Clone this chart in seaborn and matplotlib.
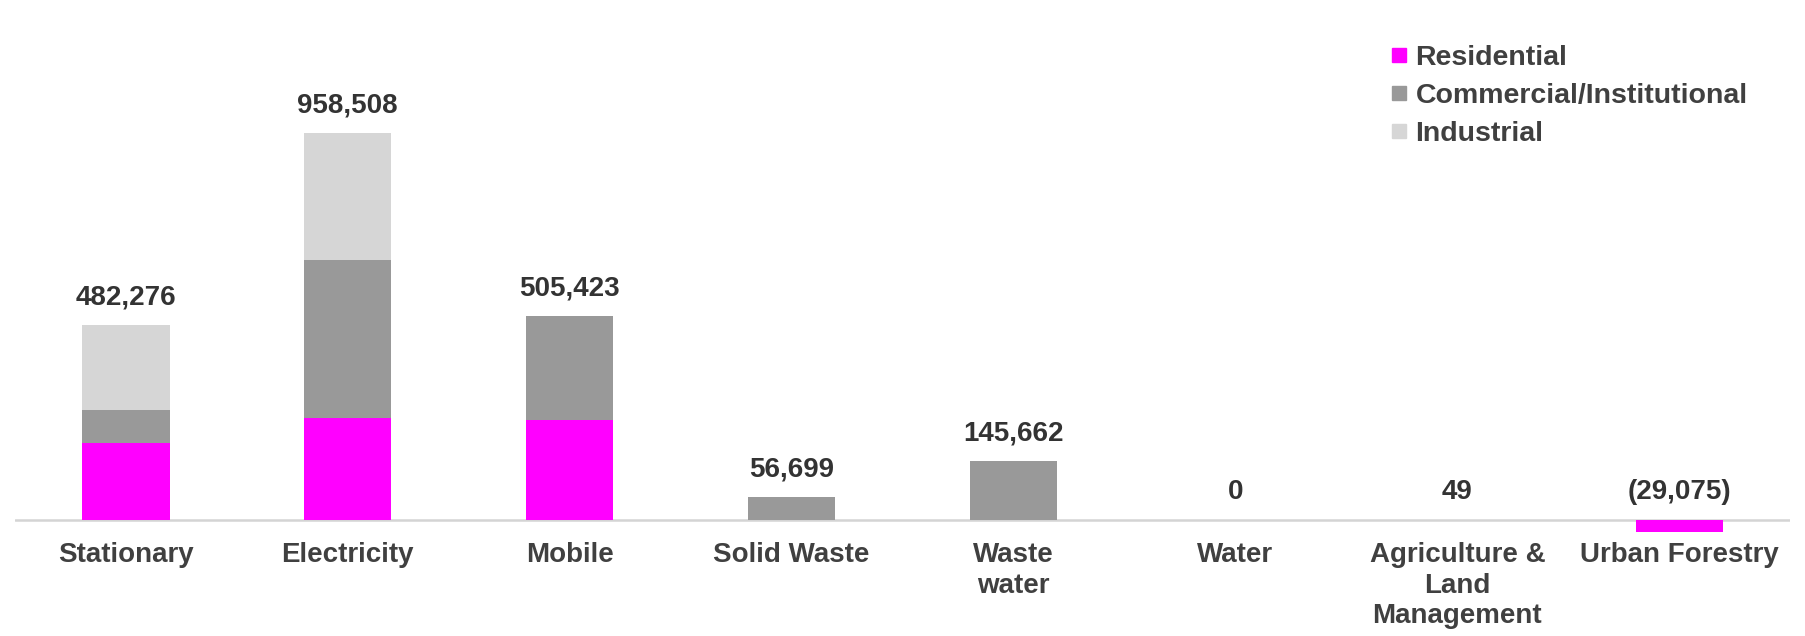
import numpy as np
import pandas as pd
import matplotlib
matplotlib.use("Agg")
import matplotlib.pyplot as plt
from matplotlib.lines import Line2D
import seaborn as sns

# Emissions by sector, split by end-use group (MT CO2e)
sectors = ["Stationary", "Electricity", "Mobile", "Solid Waste", "Waste\nwater",
           "Water", "Agriculture &\nLand\nManagement", "Urban Forestry"]
residential = [190100, 252000, 247900, 0, 0, 0, 0, -29075]
commercial = [82600, 392400, 257523, 56699, 145662, 0, 49, 0]
industrial = [209576, 314108, 0, 0, 0, 0, 0, 0]
groups = ["Residential", "Commercial/Institutional", "Industrial"]
colors = ["#ff00ff", "#999999", "#d6d6d6"]

sns.set_theme(style="white")
plt.rcParams["font.family"] = ["Liberation Sans", "DejaVu Sans"]

df = pd.DataFrame({"sector": sectors, "Residential": residential,
                   "Commercial/Institutional": commercial, "Industrial": industrial})
res = np.array(residential, dtype=float)
com = np.array(commercial, dtype=float)
ind = np.array(industrial, dtype=float)
totals = res + com + ind

fig = plt.figure(figsize=(18.06, 6.36), dpi=100)
ax = fig.add_axes([0.00825, 0.1506, 0.983, 0.7929])

bar_w = 0.394
bottoms = [np.zeros(len(sectors)), np.clip(res, 0, None), np.clip(res, 0, None) + com]
for grp, col, bot in zip(groups, colors, bottoms):
    sns.barplot(data=df, x="sector", y=grp, color=col, width=bar_w, bottom=bot,
                saturation=1, linewidth=0, ax=ax)

ax.axhline(0, color="#d4d4d4", lw=1.8, zorder=0)
ax.set_xlim(-0.5, len(sectors) - 0.5)
ax.set_ylim(-50000, 1200000)
ax.set_xlabel("")
ax.set_ylabel("")
ax.set_yticks([])
for s in ax.spines.values():
    s.set_visible(False)
ax.tick_params(axis="x", length=0, pad=1.5, labelsize=20, labelcolor="#404040")
for lbl in ax.get_xticklabels():
    lbl.set_fontweight("bold")
    lbl.set_linespacing(1.21)

for i, t in enumerate(totals):
    txt = f"({abs(int(t)):,})" if t < 0 else f"{int(t):,}"
    ax.annotate(txt, xy=(i, max(t, 0)), xytext=(0, 15), textcoords="offset points",
                ha="center", va="baseline", fontsize=20, fontweight="bold",
                color="#333333")

handles = [Line2D([], [], marker="s", linestyle="none", markersize=9.5,
                  markerfacecolor=c, markeredgecolor=c) for c in colors]
leg = fig.legend(handles, groups, loc="upper left",
                 bbox_to_anchor=(1390 / 1806, 1 - 45 / 636), frameon=False,
                 handlelength=0.6, handletextpad=0.3, labelspacing=0.42,
                 borderpad=0, borderaxespad=0,
                 prop={"size": 20.5, "weight": "bold"})
for t in leg.get_texts():
    t.set_color("#404040")

fig.savefig("out.png", dpi=100, facecolor="white")
